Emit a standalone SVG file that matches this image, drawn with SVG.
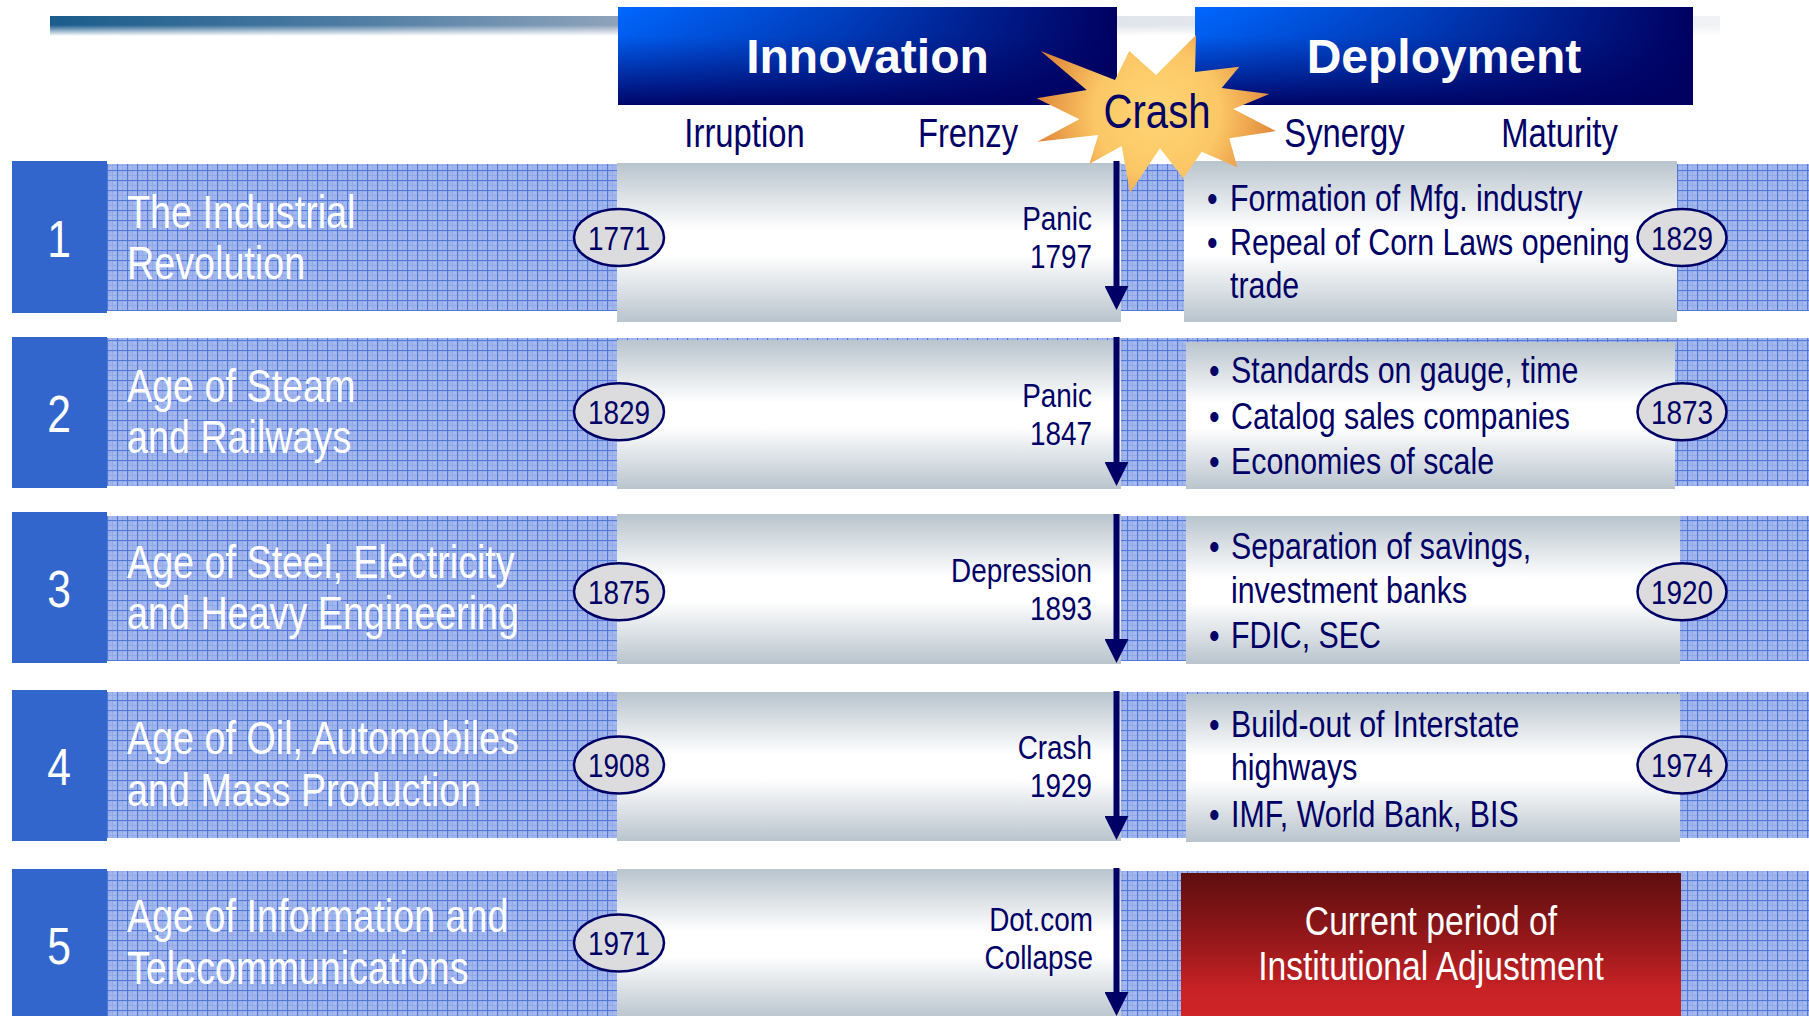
<svg xmlns="http://www.w3.org/2000/svg" width="1809" height="1016" viewBox="0 0 1809 1016">
<defs>
<style>
.nar{font-family:"Liberation Sans",Arial,sans-serif}
.num{fill:#fff;font-size:52px;text-anchor:middle}
.lbl{fill:#fff;font-size:46px}
.phase{fill:#000066;font-size:40px;text-anchor:middle}
.cr{fill:#000066;font-size:34px;text-anchor:end}
.bul{fill:#000066;font-size:37px}
.yr{fill:#000066;font-size:34px;text-anchor:middle}
.red{fill:#fff;font-size:41px;text-anchor:middle}
.oval{fill:#DCDCDE;stroke:#000066;stroke-width:2.5}
.numbox{fill:#3366CC}
.band{fill:url(#grid)}
.gbox{fill:url(#gray)}
.hdr{font-family:"Liberation Sans",Arial,sans-serif;font-weight:bold;font-size:48px;fill:#fff;text-anchor:middle}
.arrow{stroke:#000066;stroke-width:6;fill:none;marker-end:url(#ah)}
</style>
<pattern id="grid" width="10" height="10" patternUnits="userSpaceOnUse" x="107" y="0">
<rect width="10" height="10" fill="#A3B7EE"/>
<rect x="2.5" y="2.5" width="1" height="1" fill="#8AA2E4"/>
<rect x="7.5" y="7.5" width="1" height="1" fill="#8AA2E4"/>
<rect x="7.5" y="2.5" width="1" height="1" fill="#B8C8F2"/>
<rect x="2.5" y="7.5" width="1" height="1" fill="#B8C8F2"/>
<rect x="5" y="0" width="0.8" height="10" fill="#8FA7E8"/>
<rect x="0" y="5" width="10" height="0.8" fill="#8FA7E8"/>
<rect x="0" y="0" width="10" height="1.1" fill="#5279D8"/>
<rect x="0" y="0" width="1.1" height="10" fill="#5279D8"/>
</pattern>
<linearGradient id="gray" x1="0" y1="0" x2="0" y2="1">
<stop offset="0" stop-color="#B9C4CD"/>
<stop offset="0.42" stop-color="#FFFFFF"/>
<stop offset="0.58" stop-color="#FFFFFF"/>
<stop offset="1" stop-color="#B9C4CD"/>
</linearGradient>
<linearGradient id="redg" x1="0" y1="0" x2="0" y2="1">
<stop offset="0" stop-color="#5E0E10"/>
<stop offset="0.45" stop-color="#941719"/>
<stop offset="0.8" stop-color="#C82226"/>
<stop offset="1" stop-color="#D02428"/>
</linearGradient>
<linearGradient id="hdrH" x1="0" y1="0" x2="1" y2="0">
<stop offset="0" stop-color="#0068FF"/>
<stop offset="0.45" stop-color="#0040C0"/>
<stop offset="1" stop-color="#000060"/>
</linearGradient>
<linearGradient id="hdrV" x1="0" y1="0" x2="0" y2="1">
<stop offset="0" stop-color="#000060" stop-opacity="0"/>
<stop offset="0.3" stop-color="#000060" stop-opacity="0.1"/>
<stop offset="1" stop-color="#000060" stop-opacity="0.95"/>
</linearGradient>
<linearGradient id="barH" x1="50" y1="0" x2="1720" y2="0" gradientUnits="userSpaceOnUse">
<stop offset="0" stop-color="#1A5C8C"/>
<stop offset="0.18" stop-color="#4E7CA3"/>
<stop offset="0.34" stop-color="#8EA3BB"/>
<stop offset="0.46" stop-color="#D8DEE6"/>
<stop offset="1" stop-color="#F0F2F5"/>
</linearGradient>
<linearGradient id="fadeV" x1="0" y1="0" x2="0" y2="1">
<stop offset="0" stop-color="#fff"/>
<stop offset="0.45" stop-color="#fff"/>
<stop offset="1" stop-color="#000"/>
</linearGradient>
<mask id="barMask" maskUnits="userSpaceOnUse" x="0" y="0" width="1809" height="60">
<rect x="50" y="16" width="1670" height="20" fill="url(#fadeV)"/>
</mask>
<radialGradient id="star" cx="1157" cy="112" r="125" gradientUnits="userSpaceOnUse">
<stop offset="0" stop-color="#FFD574"/>
<stop offset="0.5" stop-color="#FCC766"/>
<stop offset="1" stop-color="#DE8236"/>
</radialGradient>
<marker id="ah" markerUnits="userSpaceOnUse" markerWidth="24" markerHeight="24" viewBox="0 0 24 24" refX="0" refY="12" orient="auto">
<path d="M0,0 L24,12 L0,24 Z" fill="#000066"/>
</marker>
</defs>

<rect width="1809" height="1016" fill="#fff"/>

<g id="top-bar">
<rect x="50" y="16" width="1670" height="20" fill="url(#barH)" mask="url(#barMask)"/>
</g>

<g id="header-innovation">
<rect x="618" y="7" width="499" height="98" fill="url(#hdrH)"/>
<rect x="618" y="7" width="499" height="98" fill="url(#hdrV)"/>
<text class="hdr" x="867.5" y="73">Innovation</text>
</g>
<g id="header-deployment">
<rect x="1195" y="7" width="498" height="98" fill="url(#hdrH)"/>
<rect x="1195" y="7" width="498" height="98" fill="url(#hdrV)"/>
<text class="hdr" x="1444" y="73">Deployment</text>
</g>

<g id="row1">
<rect class="band" x="107" y="164" width="1702" height="147"/>
<rect class="numbox" x="12" y="161" width="95" height="152"/>
<rect class="gbox" x="617" y="163" width="504" height="159"/>
<rect class="gbox" x="1184" y="161" width="493" height="161"/>
<ellipse class="oval" cx="619" cy="237.5" rx="45" ry="28.5"/>
<ellipse class="oval" cx="1682" cy="237.5" rx="44.5" ry="28.5"/>
<g class="nar" transform="scale(0.82 1)">
<text class="num" x="71.95" y="257">1</text>
<text class="lbl" x="154.88" y="228">The Industrial</text>
<text class="lbl" x="154.88" y="279">Revolution</text>
<text class="cr" x="1331.71" y="230">Panic</text>
<text class="cr" x="1331.71" y="268">1797</text>
<text class="bul"><tspan x="1471.95" y="211">•</tspan><tspan x="1500" y="211">Formation of Mfg. industry</tspan></text>
<text class="bul"><tspan x="1471.95" y="255">•</tspan><tspan x="1500" y="255">Repeal of Corn Laws opening</tspan></text>
<text class="bul" x="1500" y="298">trade</text>
<text class="yr" x="754.88" y="250">1771</text>
<text class="yr" x="2051.22" y="250">1829</text>
</g>
</g>

<g id="row2">
<rect class="band" x="107" y="338" width="1702" height="148"/>
<rect class="numbox" x="12" y="337" width="95" height="151"/>
<rect class="gbox" x="617" y="340" width="504" height="149"/>
<rect class="gbox" x="1186" y="342" width="489" height="147"/>
<ellipse class="oval" cx="619" cy="411.7" rx="45" ry="28.5"/>
<ellipse class="oval" cx="1682" cy="411.7" rx="44.5" ry="28.5"/>
<g class="nar" transform="scale(0.82 1)">
<text class="num" x="71.95" y="432">2</text>
<text class="lbl" x="154.88" y="402">Age of Steam</text>
<text class="lbl" x="154.88" y="453">and Railways</text>
<text class="cr" x="1331.71" y="407">Panic</text>
<text class="cr" x="1331.71" y="445">1847</text>
<text class="bul"><tspan x="1474.39" y="383">•</tspan><tspan x="1501.22" y="383">Standards on gauge, time</tspan></text>
<text class="bul"><tspan x="1474.39" y="429">•</tspan><tspan x="1501.22" y="429">Catalog sales companies</tspan></text>
<text class="bul"><tspan x="1474.39" y="474">•</tspan><tspan x="1501.22" y="474">Economies of scale</tspan></text>
<text class="yr" x="754.88" y="424">1829</text>
<text class="yr" x="2051.22" y="424">1873</text>
</g>
</g>

<g id="row3">
<rect class="band" x="107" y="516" width="1702" height="145"/>
<rect class="numbox" x="12" y="512" width="95" height="151"/>
<rect class="gbox" x="617" y="514" width="504" height="150"/>
<rect class="gbox" x="1186" y="516" width="494" height="148"/>
<ellipse class="oval" cx="619" cy="591.7" rx="45" ry="28.5"/>
<ellipse class="oval" cx="1682" cy="591.7" rx="44.5" ry="28.5"/>
<g class="nar" transform="scale(0.82 1)">
<text class="num" x="71.95" y="607">3</text>
<text class="lbl" x="154.88" y="578">Age of Steel, Electricity</text>
<text class="lbl" x="154.88" y="629">and Heavy Engineering</text>
<text class="cr" x="1331.71" y="582">Depression</text>
<text class="cr" x="1331.71" y="620">1893</text>
<text class="bul"><tspan x="1474.39" y="559">•</tspan><tspan x="1501.22" y="559">Separation of savings,</tspan></text>
<text class="bul" x="1501.22" y="603">investment banks</text>
<text class="bul"><tspan x="1474.39" y="648">•</tspan><tspan x="1501.22" y="648">FDIC, SEC</tspan></text>
<text class="yr" x="754.88" y="604">1875</text>
<text class="yr" x="2051.22" y="604">1920</text>
</g>
</g>

<g id="row4">
<rect class="band" x="107" y="692" width="1702" height="146"/>
<rect class="numbox" x="12" y="690" width="95" height="151"/>
<rect class="gbox" x="617" y="692" width="504" height="149"/>
<rect class="gbox" x="1186" y="694" width="494" height="148"/>
<ellipse class="oval" cx="619" cy="765" rx="45" ry="28.5"/>
<ellipse class="oval" cx="1682" cy="765" rx="44.5" ry="28.5"/>
<g class="nar" transform="scale(0.82 1)">
<text class="num" x="71.95" y="785">4</text>
<text class="lbl" x="154.88" y="754">Age of Oil, Automobiles</text>
<text class="lbl" x="154.88" y="806">and Mass Production</text>
<text class="cr" x="1331.71" y="759">Crash</text>
<text class="cr" x="1331.71" y="797">1929</text>
<text class="bul"><tspan x="1474.39" y="737">•</tspan><tspan x="1501.22" y="737">Build-out of Interstate</tspan></text>
<text class="bul" x="1501.22" y="780">highways</text>
<text class="bul"><tspan x="1474.39" y="827">•</tspan><tspan x="1501.22" y="827">IMF, World Bank, BIS</tspan></text>
<text class="yr" x="754.88" y="777.5">1908</text>
<text class="yr" x="2051.22" y="777.5">1974</text>
</g>
</g>

<g id="row5">
<rect class="band" x="107" y="871" width="1702" height="145"/>
<rect class="numbox" x="12" y="869" width="95" height="147"/>
<rect class="gbox" x="617" y="869" width="504" height="150"/>
<rect x="1181" y="873" width="500" height="146" fill="url(#redg)"/>
<ellipse class="oval" cx="619" cy="943" rx="45" ry="28.5"/>
<g class="nar" transform="scale(0.82 1)">
<text class="num" x="71.95" y="964">5</text>
<text class="lbl" x="154.88" y="932">Age of Information and</text>
<text class="lbl" x="154.88" y="984">Telecommunications</text>
<text class="cr" x="1332.93" y="931">Dot.com</text>
<text class="cr" x="1332.93" y="969">Collapse</text>
<text class="red" x="1745.12" y="935">Current period of</text>
<text class="red" x="1745.12" y="980">Institutional Adjustment</text>
<text class="yr" x="754.88" y="955.5">1971</text>
</g>
</g>

<g id="connectors">
<line class="arrow" x1="1116.5" y1="161" x2="1116.5" y2="286"/>
<line class="arrow" x1="1116.5" y1="337" x2="1116.5" y2="462"/>
<line class="arrow" x1="1116.5" y1="514" x2="1116.5" y2="639"/>
<line class="arrow" x1="1116.5" y1="691" x2="1116.5" y2="816"/>
<line class="arrow" x1="1116.5" y1="868" x2="1116.5" y2="992"/>
</g>

<g id="crash-star">
<polygon fill="url(#star)" points="1040.7,51 1115,80 1129.3,51 1156,75 1196,35 1195,72 1239.3,66.7 1221.7,88 1269.3,94 1233.3,109 1276,131 1229.3,138.3 1237.3,167.3 1201.7,151.7 1183.3,178.3 1160,148.3 1130,192.7 1121.7,146 1089.3,164 1098.3,135 1037.3,141.7 1079.3,119.3 1036.7,98.3 1086.7,90"/>
<text class="nar" transform="scale(0.82 1)" x="1410.98" y="128" font-size="49" fill="#000066" text-anchor="middle">Crash</text>
</g>

<g id="phase-labels" class="nar" transform="scale(0.82 1)">
<text class="phase" x="907.93" y="147">Irruption</text>
<text class="phase" x="1180.49" y="147">Frenzy</text>
<text class="phase" x="1639.63" y="147">Synergy</text>
<text class="phase" x="1901.83" y="147">Maturity</text>
</g>
</svg>
